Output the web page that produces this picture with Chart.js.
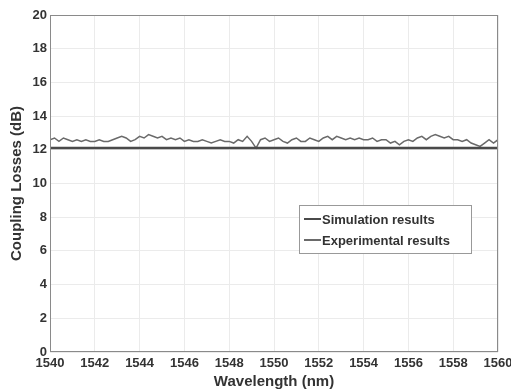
<!DOCTYPE html>
<html>
<head>
<meta charset="utf-8">
<script src="https://cdn.jsdelivr.net/npm/chart.js@4"></script>
<style>
  html, body { margin: 0; padding: 0; background: #fff; }
  #wrap { width: 511px; height: 391px; }
</style>
</head>
<body>
<div id="wrap"><canvas id="graphique" width="511" height="391"></canvas></div>
<script>
// wavelengths in nm, one sample every 0.2 nm
const wavelengths = [
  1540.0, 1540.2, 1540.4, 1540.6, 1540.8, 1541.0, 1541.2, 1541.4, 1541.6, 1541.8,
  1542.0, 1542.2, 1542.4, 1542.6, 1542.8, 1543.0, 1543.2, 1543.4, 1543.6, 1543.8,
  1544.0, 1544.2, 1544.4, 1544.6, 1544.8, 1545.0, 1545.2, 1545.4, 1545.6, 1545.8,
  1546.0, 1546.2, 1546.4, 1546.6, 1546.8, 1547.0, 1547.2, 1547.4, 1547.6, 1547.8,
  1548.0, 1548.2, 1548.4, 1548.6, 1548.8, 1549.0, 1549.2, 1549.4, 1549.6, 1549.8,
  1550.0, 1550.2, 1550.4, 1550.6, 1550.8, 1551.0, 1551.2, 1551.4, 1551.6, 1551.8,
  1552.0, 1552.2, 1552.4, 1552.6, 1552.8, 1553.0, 1553.2, 1553.4, 1553.6, 1553.8,
  1554.0, 1554.2, 1554.4, 1554.6, 1554.8, 1555.0, 1555.2, 1555.4, 1555.6, 1555.8,
  1556.0, 1556.2, 1556.4, 1556.6, 1556.8, 1557.0, 1557.2, 1557.4, 1557.6, 1557.8,
  1558.0, 1558.2, 1558.4, 1558.6, 1558.8, 1559.0, 1559.2, 1559.4, 1559.6, 1559.8,
  1560.0
]

// measured coupling losses (dB)
const experimental = [
  12.6, 12.7, 12.5, 12.7, 12.6, 12.5, 12.6, 12.5, 12.6, 12.5,
  12.5, 12.6, 12.5, 12.5, 12.6, 12.7, 12.8, 12.7, 12.5, 12.6,
  12.8, 12.7, 12.9, 12.8, 12.7, 12.8, 12.6, 12.7, 12.6, 12.7,
  12.5, 12.6, 12.5, 12.5, 12.6, 12.5, 12.4, 12.5, 12.6, 12.5,
  12.5, 12.4, 12.6, 12.5, 12.8, 12.5, 12.1, 12.6, 12.7, 12.5,
  12.6, 12.7, 12.5, 12.4, 12.6, 12.7, 12.5, 12.5, 12.7, 12.6,
  12.5, 12.7, 12.8, 12.6, 12.8, 12.7, 12.6, 12.7, 12.6, 12.7,
  12.6, 12.6, 12.7, 12.5, 12.6, 12.6, 12.4, 12.5, 12.3, 12.5,
  12.6, 12.5, 12.7, 12.8, 12.6, 12.8, 12.9, 12.8, 12.7, 12.8,
  12.6, 12.6, 12.5, 12.6, 12.4, 12.3, 12.2, 12.4, 12.6, 12.4,
  12.6
]

// simulated coupling losses (dB), one value per nm
const simWavelengths = [
  1540, 1541, 1542, 1543, 1544, 1545, 1546, 1547, 1548, 1549, 1550,
  1551, 1552, 1553, 1554, 1555, 1556, 1557, 1558, 1559, 1560
]
const simulation = [
  12.1, 12.1, 12.1, 12.1, 12.1, 12.1, 12.1, 12.1, 12.1, 12.1, 12.1,
  12.1, 12.1, 12.1, 12.1, 12.1, 12.1, 12.1, 12.1, 12.1, 12.1
]

const labelSim = "Simulation results"
const labelExp = "Experimental results"

const police = "'Liberation Sans', Arial, sans-serif"

// frame around the plot area plus the boxed legend inside it
const cadre = {
    id: "cadre",
    afterDraw(chart) {
        let ctx = chart.ctx
        let a = chart.chartArea
        ctx.save()
        ctx.strokeStyle = "#8a8a8a"
        ctx.lineWidth = 1
        ctx.strokeRect(a.left + 0.5, a.top + 0.5, a.right - a.left - 1, a.bottom - a.top - 1)

        // legend box
        let x = 299, y = 205, w = 172, h = 48
        ctx.fillStyle = "#fff"
        ctx.fillRect(x, y, w, h)
        ctx.strokeStyle = "#999"
        ctx.strokeRect(x + 0.5, y + 0.5, w, h)
        ctx.font = "bold 13px " + police
        ctx.textBaseline = "middle"
        chart.data.datasets.forEach((ds, i) => {
            let ly = y + 14 + i * 21
            ctx.strokeStyle = ds.borderColor
            ctx.lineWidth = 2
            ctx.beginPath()
            ctx.moveTo(x + 5, ly)
            ctx.lineTo(x + 22, ly)
            ctx.stroke()
            ctx.fillStyle = "#333"
            ctx.fillText(ds.label, x + 23, ly + 1)
        })
        ctx.restore()
    }
}

new Chart(document.getElementById("graphique"), {
    type: "line",
    data: {
        datasets: [
            {
                label: labelSim,
                data: simWavelengths.map((w, i) => ({ x: w, y: simulation[i] })),
                borderColor: "#4a4a4a",
                borderWidth: 2.5,
                pointRadius: 0,
                tension: 0
            },
            {
                label: labelExp,
                data: wavelengths.map((w, i) => ({ x: w, y: experimental[i] })),
                borderColor: "#6a6a6a",
                borderWidth: 1.5,
                pointRadius: 0,
                tension: 0
            }
        ]
    },
    options: {
        responsive: false,
        animation: false,
        layout: { padding: { top: 15, right: 13, left: 0, bottom: 0 } },
        plugins: {
            legend: { display: false },
            tooltip: { enabled: false }
        },
        scales: {
            x: {
                type: "linear",
                min: 1540,
                max: 1560,
                afterFit: s => {
                    s.height = 39
                    s.paddingLeft = 0
                    s.paddingRight = 0
                },
                grid: { color: "#ebebeb", drawTicks: false },
                border: { display: false },
                ticks: {
                    stepSize: 2,
                    padding: 4,
                    color: "#333",
                    callback: v => String(v),
                    font: { family: police, size: 13, weight: "bold" }
                },
                title: {
                    display: true,
                    text: "Wavelength (nm)",
                    color: "#333",
                    padding: { top: 0, bottom: 0 },
                    font: { family: police, size: 15, weight: "bold" }
                }
            },
            y: {
                min: 0,
                max: 20,
                afterFit: s => {
                    s.width = 50
                    s.paddingTop = 0
                    s.paddingBottom = 0
                },
                grid: { color: "#ebebeb", drawTicks: false },
                border: { display: false },
                ticks: {
                    stepSize: 2,
                    padding: 3,
                    color: "#333",
                    callback: v => String(v),
                    font: { family: police, size: 13, weight: "bold" }
                },
                title: {
                    display: true,
                    text: "Coupling Losses (dB)",
                    color: "#333",
                    padding: { top: 8, bottom: 2 },
                    font: { family: police, size: 15, weight: "bold" }
                }
            }
        }
    },
    plugins: [cadre]
})
</script>
</body>
</html>
